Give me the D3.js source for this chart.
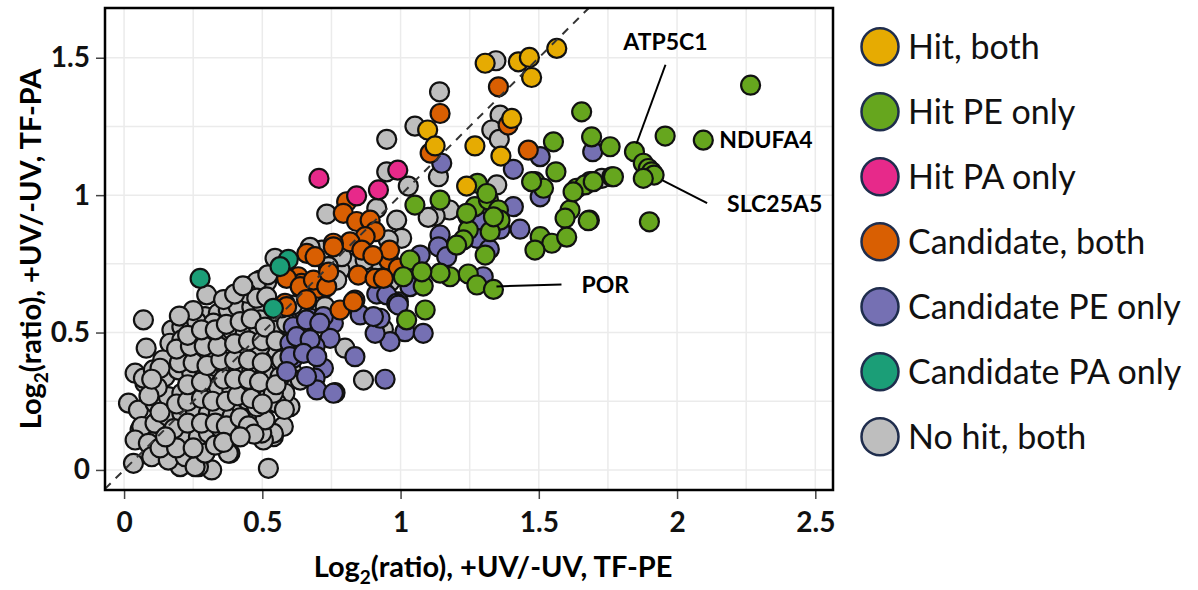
<!DOCTYPE html>
<html>
<head>
<meta charset="utf-8">
<script src="https://cdn.jsdelivr.net/npm/d3@7"></script>
<style>
  body { margin: 0; background: #fff; }
  text { font-family: Lato, "Open Sans", sans-serif; }
</style>
</head>
<body>
<svg width="1198" height="590"></svg>
<script>
// legend categories and their colours
var categories = ["Hit, both", "Hit PE only", "Hit PA only", "Candidate, both",
                  "Candidate PE only", "Candidate PA only", "No hit, both"];
var colors = ["#E6AB02", "#66A61E", "#E7298A", "#D95F02", "#7570B3", "#1B9E77", "#BEBEBE"];

var xTicks = [0, 0.5, 1, 1.5, 2, 2.5];
var yTicks = [0, 0.5, 1, 1.5];

// [log2 ratio TF-PE, log2 ratio TF-PA]
var hitBoth = [[1.306,1.48],[1.426,1.485],[1.466,1.501],[1.474,1.428],[1.565,1.534],[1.402,1.279],
  [1.098,1.237],[1.125,1.179],[1.269,1.179],[1.363,1.142],[1.239,1.033]];

var hitPE = [[2.266,1.40],[1.957,1.215],[2.095,1.20],[1.846,1.158],[1.878,1.116],[1.896,1.097],
  [1.908,1.085],[1.917,1.073],[1.878,1.061],[1.90,0.903],[1.683,0.909],[1.758,1.176],[1.691,1.212],
  [1.655,1.303],[1.764,1.067],[1.685,1.049],[1.553,1.194],[1.562,1.085],[1.486,1.049],[1.517,1.025],
  [1.637,1.025],[1.667,1.037],[1.697,1.049],[1.77,1.067],[1.613,0.946],[1.595,0.916],[1.679,0.907],
  [1.505,0.849],[1.547,0.825],[1.601,0.847],[1.486,0.80],[1.052,0.964],[1.143,0.982],[1.278,1.043],
  [1.269,0.958],[1.318,0.982],[1.354,0.946],[1.36,0.909],[1.324,0.867],[1.245,0.873],[1.227,0.837],
  [1.203,0.818],[1.306,0.782],[1.034,0.764],[1.179,0.703],[1.245,0.713],[1.276,0.673],[1.336,0.657],
  [1.143,0.716],[1.082,0.669],[1.01,0.703],[1.089,0.582],[1.022,0.546],[1.077,0.721],[1.312,1.006],
  [1.239,0.934],[1.336,0.921],[1.474,1.049],[1.624,1.012]];

var hitPA = [[0.705,1.061],[0.841,0.997],[0.92,1.019],[0.99,1.091]];

var candBoth = [[1.143,1.297],[1.354,1.394],[1.389,1.255],[1.107,1.153],[1.462,1.164],
  [0.805,0.976],[0.793,0.934],[0.841,0.904],[0.89,0.909],[0.908,0.867],[0.872,0.849],[0.817,0.83],
  [0.757,0.825],[0.661,0.788],[0.691,0.776],[0.956,0.764],[0.992,0.734],[0.847,0.709],[0.908,0.697],
  [0.938,0.697],[0.63,0.703],[0.642,0.679],[0.588,0.697],[0.703,0.661],[0.835,0.618],[0.582,0.606],
  [0.781,0.582],[0.757,0.812],[0.637,0.667],[0.685,0.691],[0.733,0.667],[0.588,0.594],[0.86,0.80],
  [0.74,0.72],[0.96,0.80],[0.66,0.62],[0.90,0.78],[0.829,0.612]];

var candPE = [[1.149,1.116],[1.505,1.14],[1.408,1.094],[1.505,0.994],[1.695,1.158],[1.408,0.958],
  [1.288,0.903],[1.36,0.876],[1.432,0.876],[1.276,0.843],[1.321,0.803],[1.143,0.855],[1.137,0.812],
  [1.167,0.776],[1.071,0.782],[1.034,0.667],[1.299,0.703],[1.016,0.503],[1.082,0.497],[0.962,0.467],
  [0.908,0.497],[0.992,0.612],[0.944,0.643],[0.914,0.64],[0.854,0.564],[0.926,0.552],[0.835,0.412],
  [0.944,0.33],[0.673,0.552],[0.757,0.534],[0.745,0.479],[0.691,0.449],[0.721,0.37],[0.691,0.334],
  [0.697,0.291],[0.763,0.281],[0.612,0.406],[0.649,0.485],[0.612,0.521],[0.60,0.461],[0.721,0.558],
  [0.902,0.558],[0.95,0.637],[0.986,0.606],[0.66,0.546],[0.708,0.534],[0.624,0.485],[0.673,0.474],
  [0.60,0.412],[0.649,0.424],[0.697,0.412],[0.588,0.358],[0.66,0.34],[0.757,0.279],[0.992,0.60]];

var candPA = [[0.275,0.697],[0.594,0.766],[0.564,0.74],[0.54,0.588]];

var noHit = [[1.345,1.489],[1.141,1.376],[1.052,1.251],[0.95,1.203],[1.36,1.291],[1.33,1.237],
  [1.357,1.203],[0.95,1.085],[1.028,1.033],[1.137,1.067],[1.348,1.037],[1.177,0.946],[1.125,0.924],
  [1.10,0.919],[1.245,0.921],[1.728,1.061],[0.914,0.952],[0.986,0.909],[1.004,0.843],[0.956,0.837],
  [0.733,0.931],[0.715,0.80],[0.914,0.764],[0.817,0.752],[0.781,0.728],[0.962,0.685],[0.661,0.618],
  [0.727,0.594],[0.546,0.77],[0.492,0.691],[0.444,0.667],[0.938,0.512],[0.866,0.327],[0.799,0.443],
  [0.673,0.81],[0.787,0.776],[0.769,0.691],[0.739,0.74],[0.648,0.649],[0.872,0.764],[0.492,0.643],
  [0.456,0.618],[0.516,0.588],[0.648,0.582],
  [0.607,0.358],[0.60,0.327],[0.637,0.327],[0.60,0.23],[0.576,0.158],[0.54,0.121],[0.51,0.121],
  [0.522,0.006],[0.486,0.194],[0.299,0.637],[0.07,0.546],[0.08,0.443],[0.04,0.352],[0.016,0.243],
  [0.076,0.315],[0.058,0.146],[0.034,0.024],[0.1,0.103],[0.317,0.0],[0.269,0.012],[0.203,0.012],
  [0.383,0.061],[0.54,0.133],[0.504,0.109],
  [0.07,0.334],[0.106,0.364],[0.173,0.509],[0.209,0.521],[0.245,0.534],[0.293,0.558],[0.341,0.57],
  [0.377,0.582],[0.413,0.594],[0.462,0.594],[0.498,0.57],
  [0.166,0.461],[0.209,0.473],[0.257,0.485],[0.317,0.461],[0.353,0.485],[0.39,0.509],[0.438,0.497],
  [0.486,0.521],[0.522,0.485],
  [0.184,0.406],[0.221,0.412],[0.269,0.425],[0.329,0.412],[0.377,0.437],[0.426,0.449],[0.474,0.437],
  [0.522,0.425],
  [0.148,0.339],[0.196,0.364],[0.245,0.352],[0.293,0.352],[0.329,0.376],[0.371,0.364],[0.413,0.376],
  [0.462,0.364],[0.51,0.352],
  [0.052,0.218],[0.112,0.243],[0.16,0.267],[0.209,0.279],[0.257,0.291],[0.305,0.291],[0.341,0.303],
  [0.39,0.291],[0.438,0.303],[0.486,0.291],[0.522,0.267],
  [0.064,0.158],[0.112,0.17],[0.16,0.194],[0.209,0.206],[0.257,0.218],[0.305,0.206],[0.341,0.206],
  [0.39,0.194],[0.426,0.23],
  [0.04,0.109],[0.088,0.097],[0.173,0.134],[0.221,0.109],[0.269,0.121],[0.305,0.134],[0.353,0.146],
  [0.39,0.121],[0.498,0.134],
  [0.1,0.048],[0.16,0.036],[0.221,0.048],[0.257,0.012],[0.293,0.061],[0.377,0.061],
  [0.263,0.539],[0.323,0.534],[0.468,0.637],[0.516,0.685],[0.48,0.685],[0.444,0.643],[0.52,0.71],
  [0.48,0.625],[0.516,0.63],[0.564,0.546],[0.60,0.521],[0.612,0.449],[0.582,0.279],[0.552,0.243],
  [0.51,0.182],[0.492,0.546],[0.54,0.509],[0.588,0.534],[0.552,0.437],[0.492,0.449],[0.564,0.339],
  [0.54,0.279],[0.444,0.255],[0.48,0.23],[0.36,0.62],[0.40,0.64],[0.43,0.67],[0.25,0.58],[0.20,0.56],
  [0.14,0.40],[0.12,0.30],[0.09,0.27],[0.13,0.21],[0.19,0.24],[0.23,0.25],[0.28,0.26],[0.32,0.25],
  [0.37,0.25],[0.41,0.27],[0.46,0.26],[0.50,0.24],[0.18,0.15],[0.23,0.17],[0.28,0.17],[0.33,0.17],
  [0.37,0.16],[0.42,0.19],[0.45,0.16],[0.47,0.13],[0.13,0.08],[0.19,0.08],[0.25,0.08],[0.33,0.09],
  [0.36,0.10],[0.42,0.12],[0.15,0.12],[0.23,0.31],[0.28,0.32],[0.36,0.33],[0.40,0.33],[0.45,0.33],
  [0.49,0.32],[0.20,0.39],[0.25,0.39],[0.30,0.38],[0.35,0.40],[0.40,0.40],[0.45,0.40],[0.50,0.39],
  [0.19,0.44],[0.24,0.45],[0.29,0.45],[0.34,0.45],[0.40,0.46],[0.45,0.47],[0.50,0.47],[0.23,0.49],
  [0.28,0.51],[0.33,0.51],[0.37,0.53],[0.42,0.54],[0.46,0.55],[0.51,0.52],[0.55,0.47],[0.57,0.40],
  [0.55,0.31],[0.58,0.22],[0.13,0.37],[0.10,0.33],[0.57,0.59],[0.61,0.60]];

// drawing order (bottom to top) -> index into categories
var series = [noHit, candPE, candBoth, candPA, hitPE, hitPA, hitBoth];
var seriesIdx = [6, 4, 3, 5, 1, 2, 0];

// labelled proteins
var genes = ["ATP5C1", "NDUFA4", "SLC25A5", "POR"];
var geneX = [1.846, 2.095, 1.917, 1.336];
var geneY = [1.158, 1.20, 1.073, 0.657];

// label layout, pixel offsets from the point: [line start, line end, text pos]
var geneLayout = [
  {line: [2, -8, 31, -87], text: [31, -102], anchor: "middle"},
  {line: null, text: [16, 8], anchor: "start"},
  {line: [8, 5, 53, 28], text: [73, 37], anchor: "start"},
  {line: [3, -3, 68, -5], text: [88, 4], anchor: "start"}
];

var svg = d3.select("svg"),
    pLeft = 105, pTop = 8, pRight = 833, pBottom = 490;

var x = d3.scaleLinear().domain([-0.069, 2.564]).range([pLeft, pRight]);
var y = d3.scaleLinear().domain([-0.073, 1.681]).range([pBottom, pTop]);

// grid
var grid = svg.append("g").attr("stroke", "#ebebeb").attr("stroke-width", 1.5);
grid.selectAll(".gx").data(d3.range(0, 2.51, 0.25)).enter().append("line")
    .attr("x1", function(d) { return x(d); }).attr("x2", function(d) { return x(d); })
    .attr("y1", pTop).attr("y2", pBottom);
grid.selectAll(".gy").data(d3.range(0, 1.51, 0.25)).enter().append("line")
    .attr("y1", function(d) { return y(d); }).attr("y2", function(d) { return y(d); })
    .attr("x1", pLeft).attr("x2", pRight);

// axes
var xAxis = svg.append("g")
    .attr("transform", "translate(0," + pBottom + ")")
    .call(d3.axisBottom(x).tickValues(xTicks).tickSize(9).tickPadding(13)
      .tickFormat(function(d) { return d; }));
var yAxis = svg.append("g")
    .attr("transform", "translate(" + pLeft + ",0)")
    .call(d3.axisLeft(y).tickValues(yTicks).tickSize(9).tickPadding(6)
      .tickFormat(function(d) { return d; }));
[xAxis, yAxis].forEach(function(a) {
  a.select(".domain").remove();
  a.selectAll(".tick line").attr("stroke", "#444").attr("stroke-width", 1.5);
  a.selectAll(".tick text").attr("font-family", "Lato, sans-serif")
    .attr("font-size", 28).attr("font-weight", "bold").attr("fill", "#111");
});

// points
var pts = svg.append("g");
series.forEach(function(s, i) {
  pts.append("g").selectAll("circle").data(s).enter().append("circle")
      .attr("cx", function(d) { return x(d[0]); })
      .attr("cy", function(d) { return y(d[1]); })
      .attr("r", 9.5)
      .attr("fill", colors[seriesIdx[i]])
      .attr("stroke", "#111")
      .attr("stroke-width", 2.2);
});

// y = x reference line
svg.append("line")
    .attr("x1", x(-0.069)).attr("y1", y(-0.069))
    .attr("x2", x(1.681)).attr("y2", y(1.681))
    .attr("stroke", "#333").attr("stroke-width", 2)
    .attr("stroke-dasharray", "8,7");

// frame
svg.append("rect")
    .attr("x", pLeft).attr("y", pTop)
    .attr("width", pRight - pLeft).attr("height", pBottom - pTop)
    .attr("fill", "none").attr("stroke", "#000").attr("stroke-width", 2.5);

// gene labels
genes.forEach(function(g, i) {
  var px = x(geneX[i]), py = y(geneY[i]), L = geneLayout[i];
  if (L.line) {
    svg.append("line")
        .attr("x1", px + L.line[0]).attr("y1", py + L.line[1])
        .attr("x2", px + L.line[2]).attr("y2", py + L.line[3])
        .attr("stroke", "#000").attr("stroke-width", 2);
  }
  svg.append("text")
      .attr("x", px + L.text[0]).attr("y", py + L.text[1])
      .attr("text-anchor", L.anchor)
      .attr("font-size", 23).attr("font-weight", "bold")
      .text(g);
});

// axis titles
var xt = svg.append("text")
    .attr("x", 493).attr("y", 577)
    .attr("text-anchor", "middle")
    .attr("font-size", 29).attr("font-weight", "bold");
xt.append("tspan").text("Log");
xt.append("tspan").attr("font-size", 19).attr("dy", 7).text("2");
xt.append("tspan").attr("dy", -7).text("(ratio), +UV/-UV, TF-PE");

var yt = svg.append("text")
    .attr("transform", "translate(41," + ((pTop + pBottom) / 2) + ") rotate(-90)")
    .attr("text-anchor", "middle")
    .attr("font-size", 29).attr("font-weight", "bold");
yt.append("tspan").text("Log");
yt.append("tspan").attr("font-size", 19).attr("dy", 7).text("2");
yt.append("tspan").attr("dy", -7).text("(ratio), +UV/-UV, TF-PA");

// legend
var legend = svg.append("g").selectAll("g").data(categories).enter().append("g")
    .attr("transform", function(d, i) { return "translate(880," + (46.7 + i * 65) + ")"; });
legend.append("circle")
    .attr("r", 18.5)
    .attr("fill", function(d, i) { return colors[i]; })
    .attr("stroke", "#1f2d4d")
    .attr("stroke-width", 2.5);
legend.append("text")
    .attr("x", 28).attr("y", 12)
    .attr("font-size", 34)
    .attr("fill", "#111")
    .text(function(d) { return d; });
</script>
</body>
</html>
